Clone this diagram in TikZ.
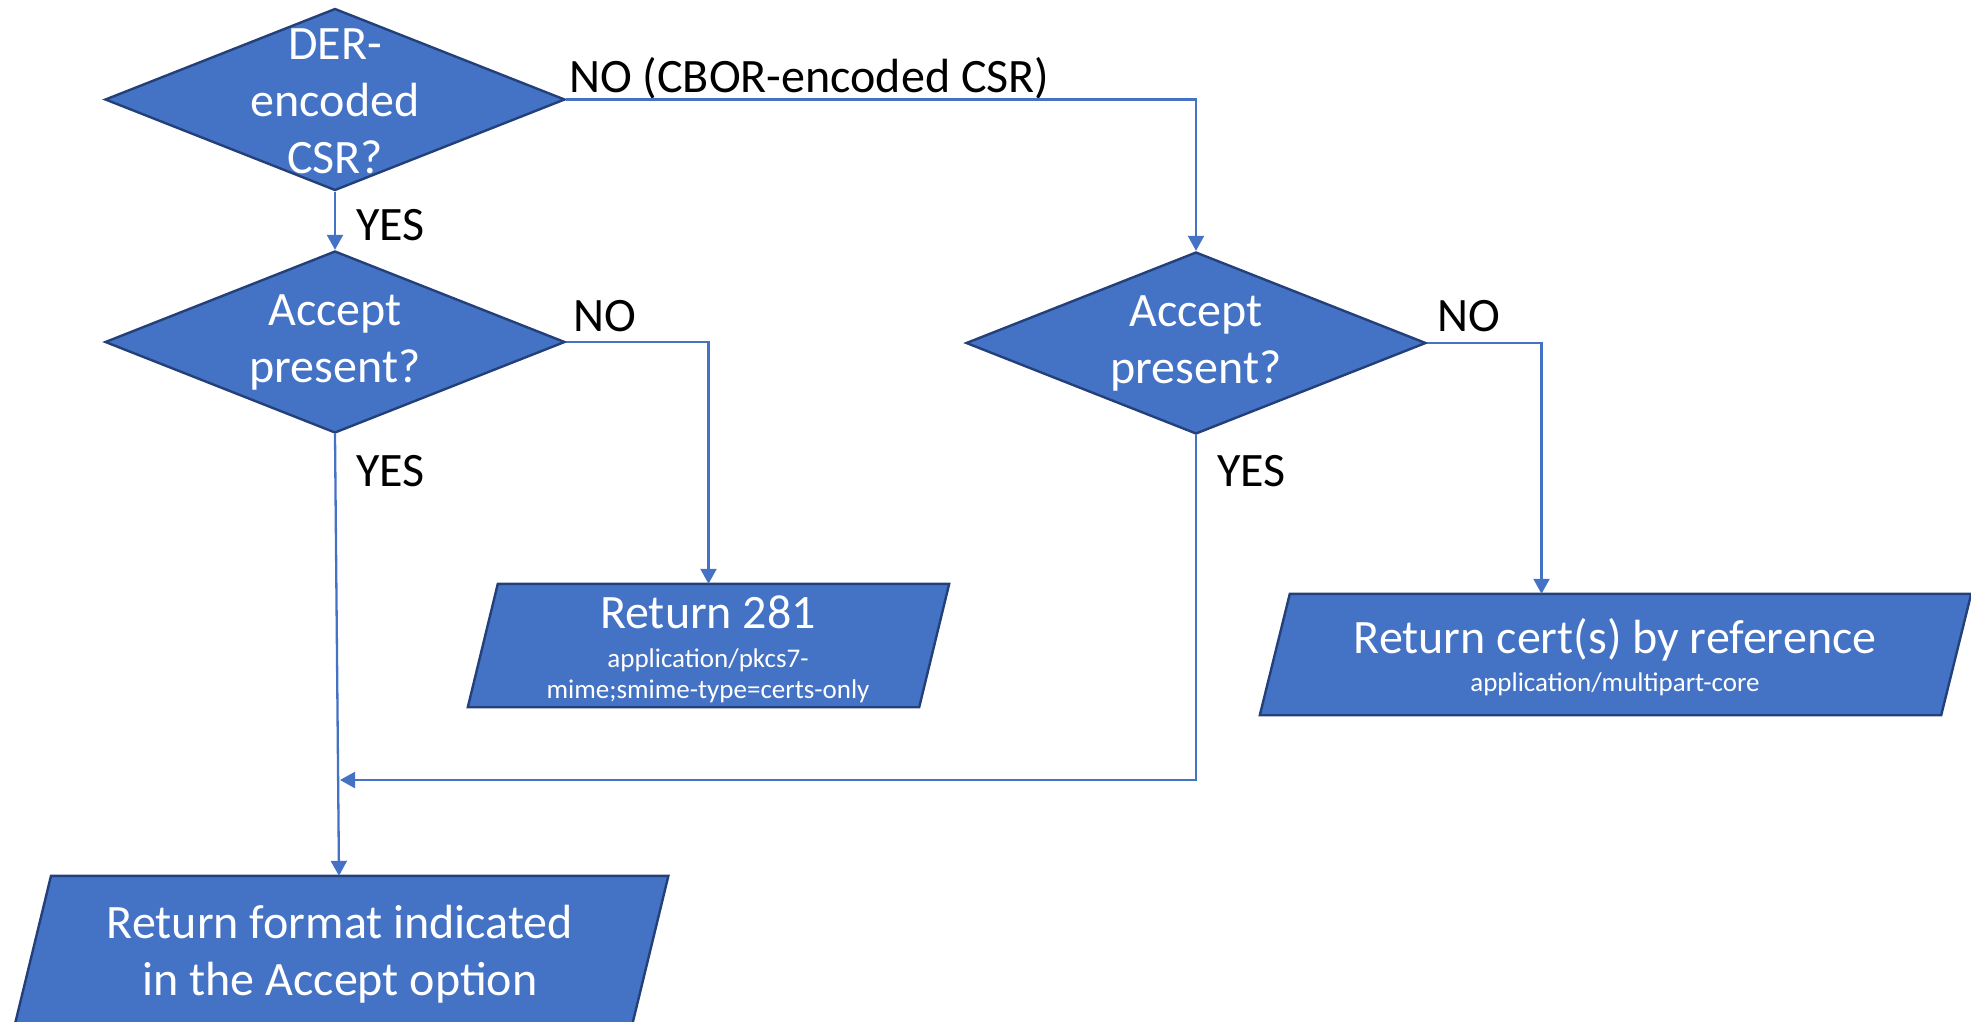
\documentclass[tikz,border=0pt]{standalone}
\usepackage{fontspec}
\setmainfont{Carlito}
\usetikzlibrary{shapes.geometric,arrows.meta,calc}
\definecolor{fillblue}{HTML}{4472C4}
\definecolor{edgeblue}{HTML}{23407A}
\definecolor{linkblue}{HTML}{4472C4}
\newcommand\drawpara[2]{\path[iopath] ($(#1.north west)+(#2,0)$) -- ($(#1.north east)+(#2,0)$) -- ($(#1.south east)-(#2,0)$) -- ($(#1.south west)-(#2,0)$) -- cycle;}
\begin{document}
\begin{tikzpicture}[x=1pt,y=-1pt,
  dec/.style={shape=diamond, draw=edgeblue, line width=2.4pt, fill=fillblue,
    minimum width=460pt, minimum height=182pt, inner sep=0pt},
  iobody/.style={rectangle, draw=none, inner sep=0pt},
  iopath/.style={draw=edgeblue, line width=2.4pt, fill=fillblue, line join=miter},
  wtxt/.style={text=white, font=\fontsize{48}{57}\selectfont, align=center, inner sep=0pt},
  stxt/.style={text=white, font=\fontsize{27}{31}\selectfont, align=center, inner sep=0pt},
  lbl/.style={text=black, font=\fontsize{48}{57}\selectfont, inner sep=0pt, anchor=base west},
  conn/.style={draw=linkblue, line width=2.3pt, -{Triangle[width=16pt,length=15pt]}}
]
\useasboundingbox (0,0) rectangle (1971,1021);

% decisions
\node[dec] (d1) at (335,99.5) {};
\node[wtxt] (d1t) at (335,101) {DER-\\encoded\\CSR?};
\node[dec] (d2) at (335,342) {};
\node[wtxt] (d2t) at (335,342) {Accept\\present?};
\node[dec] (d3) at (1196,343) {};
\node[wtxt] (d3t) at (1196,343) {Accept\\present?};

% outputs
\node[iobody, minimum width=451pt, minimum height=123pt] (r281) at (708.5,645.5) {};
\drawpara{r281}{15}
\node[wtxt, anchor=base] (r281t) at (708,628) {Return 281};
\node[stxt] (r281s) at (708,676) {application/pkcs7-\\mime;smime-type=certs-only};

\node[iobody, minimum width=681pt, minimum height=121pt] (cert) at (1615.5,654.5) {};
\drawpara{cert}{15}
\node[wtxt, anchor=base] (certt) at (1615,653) {Return cert(s) by reference};
\node[stxt, anchor=base] (certs) at (1615,691) {application/multipart-core};

\node[iobody, minimum width=617pt, minimum height=170pt] (fmt) at (339,961) {};
\drawpara{fmt}{20.7}
\node[wtxt] (fmtt) at (340,954) {Return format indicated\\in the Accept option};

% labels
\node[lbl] (lno1) at (569,92) {NO (CBOR-encoded CSR)};
\node[lbl] (lyes1) at (356,240) {YES};
\node[lbl] (lno2) at (573,331) {NO};
\node[lbl] (lyes2) at (356,486) {YES};
\node[lbl] (lno3) at (1437,331) {NO};
\node[lbl] (lyes3) at (1217,486) {YES};

% connector end points
\coordinate (fmtin) at (fmt.north);
\coordinate (joinpt) at (340,780);

% connectors
\draw[conn] (d1.south) -- (d2.north);
\draw[conn] (d1.east) -| (d3.north);
\draw[conn] (d2.east) -| (r281.north);
\draw[conn] (d3.east) -| ([xshift=-74pt]cert.north);
\draw[conn] (d2.south) -- (fmtin);
\draw[conn] (d3.south) |- (joinpt);
\end{tikzpicture}
\end{document}
